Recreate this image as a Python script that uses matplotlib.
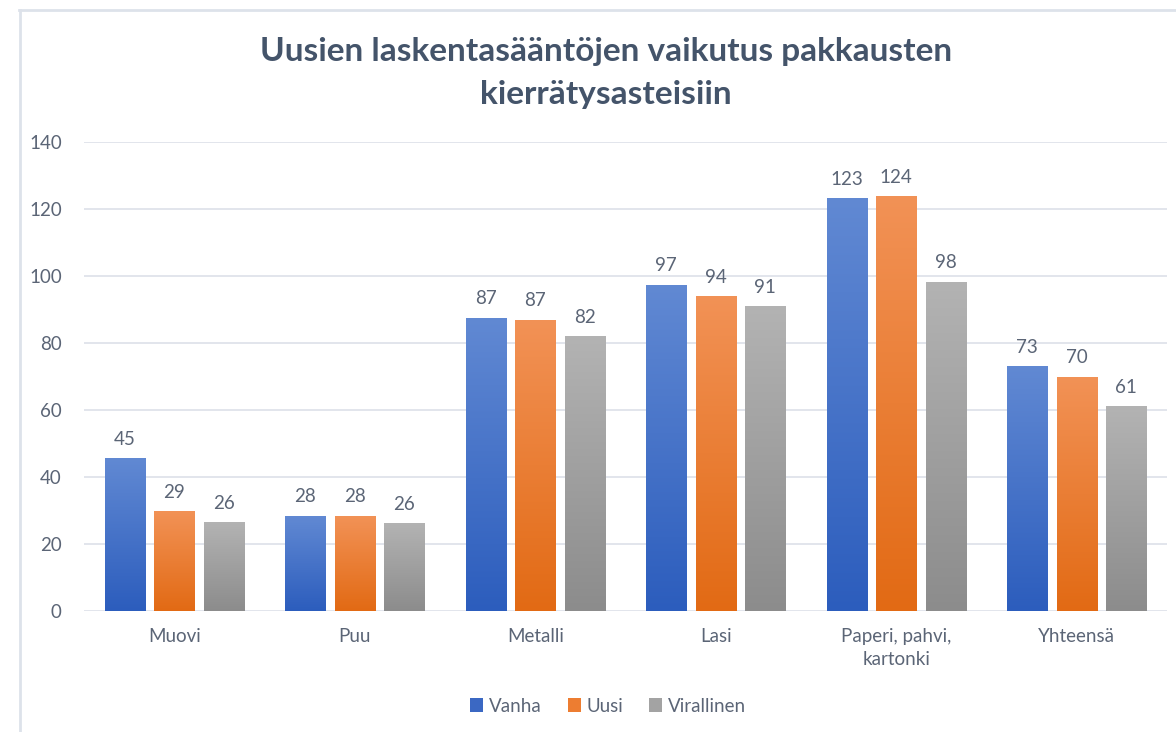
# Uusien laskentasääntöjen vaikutus pakkausten kierrätysasteisiin
import matplotlib.pyplot as plt
import numpy as np
from matplotlib.patches import Patch
from matplotlib.lines import Line2D
from matplotlib.colors import LinearSegmentedColormap

categories = ['Muovi', 'Puu', 'Metalli', 'Lasi', 'Paperi, pahvi,\nkartonki', 'Yhteensä']
vanha = [45.4, 28.3, 87.4, 97.3, 123.0, 73.0]
uusi = [29.6, 28.3, 86.8, 93.9, 123.7, 69.8]
virallinen = [26.4, 26.0, 82.0, 90.9, 98.2, 61.1]
labels_vanha = [45, 28, 87, 97, 123, 73]
labels_uusi = [29, 28, 87, 94, 124, 70]
labels_virallinen = [26, 26, 82, 91, 98, 61]
series_names = ['Vanha', 'Uusi', 'Virallinen']

plt.rcParams['font.family'] = ['Lato', 'DejaVu Sans']
txt = '#5b6576'

# (top colour, bottom colour, legend colour)
grads = [('#6189d3', '#2c5dbd', '#3b68c3'),
         ('#f29256', '#e26a14', '#ed7d31'),
         ('#b3b3b3', '#8c8c8c', '#a3a3a3')]

fig = plt.figure(figsize=(11.76, 7.32), dpi=100)
ax = fig.add_axes([84/1176, 121/732, 1083/1176, 469/732])

x = np.arange(len(categories))
w = 0.222
step = 0.275
grad = np.linspace(0, 1, 256).reshape(-1, 1)
for i, (vals, labs) in enumerate(zip([vanha, uusi, virallinen],
                                     [labels_vanha, labels_uusi, labels_virallinen])):
    top, bot, _ = grads[i]
    cmap = LinearSegmentedColormap.from_list('g%d' % i, [top, bot])
    for xi, v, lab in zip(x, vals, labs):
        xc = xi + (i - 1) * step
        ax.imshow(grad, extent=[xc - w/2, xc + w/2, 0, v], aspect='auto',
                  cmap=cmap, zorder=2, interpolation='bicubic')
        ax.text(xc, v + 3.2, str(lab), ha='center', va='bottom', fontsize=13.5, color=txt)

ax.set_xlim(-0.5, len(categories) - 0.5)
ax.set_ylim(0, 140)
ax.set_yticks(range(0, 141, 20))
ax.yaxis.grid(True, color='#dfe3ea', linewidth=1.3, zorder=0)
ax.set_axisbelow(True)
for s in ax.spines.values():
    s.set_visible(False)
ax.tick_params(axis='both', length=0, labelsize=13.5, labelcolor=txt)
ax.tick_params(axis='y', pad=16)
ax.tick_params(axis='x', pad=12)
ax.set_xticks(x)
ax.set_xticklabels(categories, linespacing=1.45)

fig.text(0.515, 1 - 73/732, 'Uusien laskentasääntöjen vaikutus pakkausten\nkierrätysasteisiin',
         ha='center', va='center', fontsize=24, fontweight='bold', color='#44546a',
         linespacing=1.58)

handles = [Patch(facecolor=g[2], label=n) for g, n in zip(grads, series_names)]
fig.legend(handles=handles, loc='center', bbox_to_anchor=(608/1176, 1 - 706/732), ncol=3,
           frameon=False, fontsize=13.5, labelcolor=txt, handlelength=0.7, handleheight=0.7,
           handletextpad=0.3, columnspacing=1.4)

# outer chart frame (partially visible in screenshot)
fig.add_artist(Line2D([19/1176, 1], [1 - 10/732, 1 - 10/732], color='#dde2ea', linewidth=2))
fig.add_artist(Line2D([20/1176, 20/1176], [0, 1 - 10/732], color='#dde2ea', linewidth=2))

fig.savefig('out.png', dpi=100)
